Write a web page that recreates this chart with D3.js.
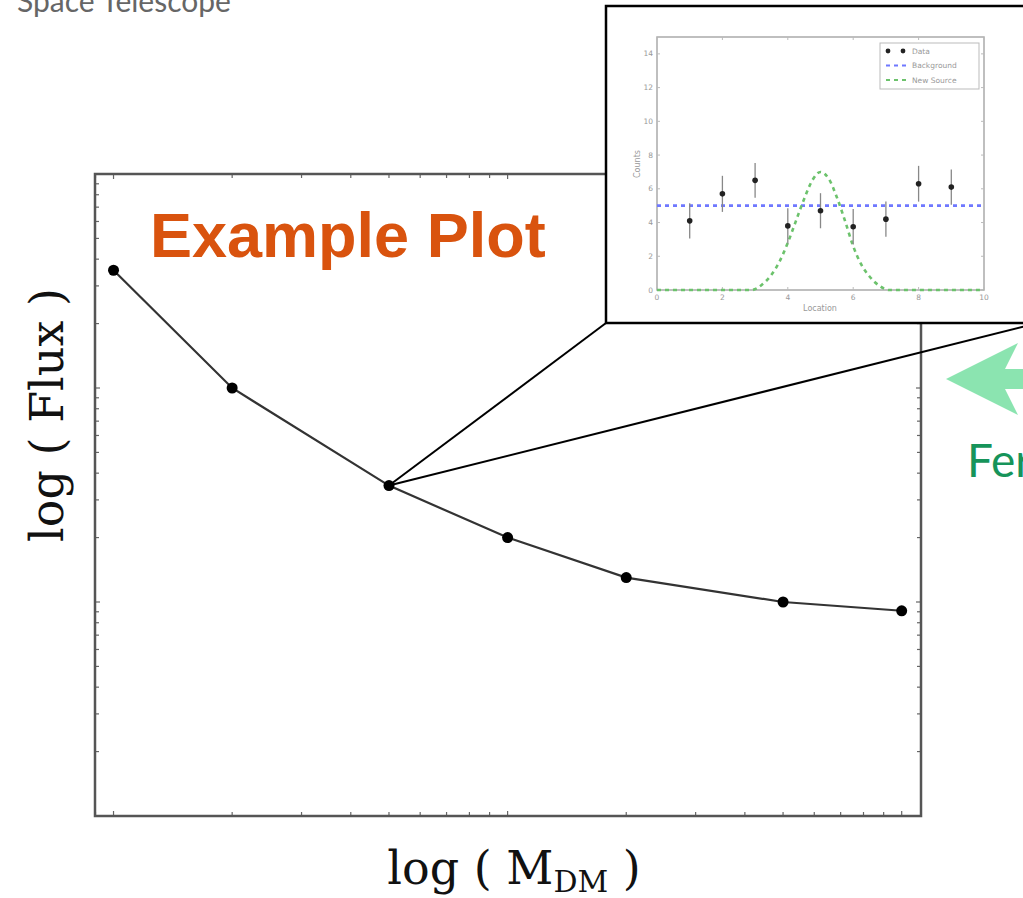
<!DOCTYPE html>
<html>
<head>
<meta charset="utf-8">
<script src="https://cdn.jsdelivr.net/npm/d3@7"></script>
<style>
  html, body { margin: 0; padding: 0; background: #fff; overflow: hidden; }
</style>
</head>
<body>
<div id="chart"></div>
<script>
// main plot data (log-log)
const massDM = [1, 2, 5, 10, 20, 50, 100];
const flux = [355, 100, 35, 20, 13, 10, 9.1];

// inset data
const insetLoc = [1, 2, 3, 4, 5, 6, 7, 8, 9];
const insetCounts = [4.1, 5.7, 6.5, 3.8, 4.7, 3.75, 4.2, 6.3, 6.1];
const insetErr = [1.05, 1.07, 1.03, 1.05, 1.04, 1.05, 1.05, 1.06, 1.05];
const backgroundLevel = [[0, 5], [10, 5]];
const sourceX = [0, 2.9, 3.2, 3.5, 3.75, 4.0, 4.25, 4.5, 4.75, 5.0, 5.25, 5.5, 5.75, 6.0, 6.25, 6.5, 6.8, 7.1, 10];
const sourceY = [0, 0, 0.3, 0.9, 1.7, 2.8, 4.1, 5.4, 6.5, 7.0, 6.6, 5.5, 4.1, 2.6, 1.5, 0.8, 0.25, 0, 0];
const insetXTicks = [0, 2, 4, 6, 8, 10];
const insetYTicks = [0, 2, 4, 6, 8, 10, 12, 14];
const legendLabels = ["Data", "Background", "New Source"];

const width = 1023, height = 898;
const margin = {top: 174, right: 102, bottom: 82, left: 95};

const svg = d3.select("#chart").append("svg")
    .attr("width", width)
    .attr("height", height);

// header text, cut by the top edge
svg.append("text")
    .attr("x", 17).attr("y", 12)
    .attr("font-family", "Lato, 'Open Sans', sans-serif")
    .attr("font-size", 30)
    .attr("fill", "#666")
    .text("Space Telescope");

let x = d3.scaleLog()
    .domain([Math.pow(10, -0.047), Math.pow(10, 2.049)])
    .range([margin.left, width - margin.right]);

let y = d3.scaleLog()
    .domain([1, 1000])
    .range([height - margin.bottom, margin.top]);

const isMajor = v => Math.abs(Math.log10(v) - Math.round(Math.log10(v))) < 1e-6;

// ticks, inward on all four sides
const tickG = svg.append("g").attr("stroke", "#666").attr("stroke-width", 1.2);
x.ticks().forEach(t => {
    let len = isMajor(t) ? 5 : 4;
    tickG.append("line").attr("x1", x(t)).attr("x2", x(t))
        .attr("y1", y.range()[0]).attr("y2", y.range()[0] - len);
    tickG.append("line").attr("x1", x(t)).attr("x2", x(t))
        .attr("y1", y.range()[1]).attr("y2", y.range()[1] + len);
});
y.ticks().forEach(t => {
    let len = isMajor(t) ? 5 : 4;
    tickG.append("line").attr("y1", y(t)).attr("y2", y(t))
        .attr("x1", x.range()[0]).attr("x2", x.range()[0] + len);
    tickG.append("line").attr("y1", y(t)).attr("y2", y(t))
        .attr("x1", x.range()[1]).attr("x2", x.range()[1] - len);
});

svg.append("rect")
    .attr("x", x.range()[0]).attr("y", y.range()[1])
    .attr("width", x.range()[1] - x.range()[0])
    .attr("height", y.range()[0] - y.range()[1])
    .attr("fill", "none")
    .attr("stroke", "#555")
    .attr("stroke-width", 2.5);

const pts = massDM.map((m, i) => [m, flux[i]]);

svg.append("path")
    .datum(pts)
    .attr("fill", "none")
    .attr("stroke", "#333")
    .attr("stroke-width", 2.2)
    .attr("d", d3.line().x(d => x(d[0])).y(d => y(d[1])));

svg.selectAll(".pt")
    .data(pts)
    .join("circle")
    .attr("class", "pt")
    .attr("cx", d => x(d[0]))
    .attr("cy", d => y(d[1]))
    .attr("r", 5.5)
    .attr("fill", "#000");

svg.append("text")
    .attr("x", 150).attr("y", 257)
    .attr("font-family", "'Liberation Sans', Arial, sans-serif")
    .attr("font-weight", "bold")
    .attr("font-size", 63)
    .attr("fill", "#d9530e")
    .text("Example Plot");

// axis labels
svg.append("text")
    .attr("x", (x.range()[0] + x.range()[1]) / 2 + 6)
    .attr("y", 884)
    .attr("text-anchor", "middle")
    .attr("font-family", "'DejaVu Serif', 'Liberation Serif', serif")
    .attr("font-size", 46)
    .attr("fill", "#111")
    .call(t => {
        t.append("tspan").text("log ( M");
        t.append("tspan").attr("font-size", 30).attr("dy", 8).text("DM");
        t.append("tspan").attr("dy", -8).text("  )");
    });

svg.append("text")
    .attr("transform", "translate(63,415) rotate(-90)")
    .attr("text-anchor", "middle")
    .attr("font-family", "'DejaVu Serif', 'Liberation Serif', serif")
    .attr("font-size", 46)
    .attr("fill", "#111")
    .text("log ( Flux )");

// zoom lines from the 3rd point to the inset corners
const zoomPt = [x(massDM[2]), y(flux[2])];
const inset = {x: 606, y: 6, w: 432, h: 317};
svg.append("line")
    .attr("x1", zoomPt[0]).attr("y1", zoomPt[1])
    .attr("x2", inset.x).attr("y2", inset.y + inset.h)
    .attr("stroke", "#000").attr("stroke-width", 2);
svg.append("line")
    .attr("x1", zoomPt[0]).attr("y1", zoomPt[1])
    .attr("x2", inset.x + inset.w).attr("y2", inset.y + inset.h)
    .attr("stroke", "#000").attr("stroke-width", 2);

// inset
const ig = svg.append("g");
ig.append("rect")
    .attr("x", inset.x).attr("y", inset.y)
    .attr("width", inset.w).attr("height", inset.h)
    .attr("fill", "#fff")
    .attr("stroke", "#000")
    .attr("stroke-width", 2.5);

let ix = d3.scaleLinear().domain([0, 10]).range([657, 984]);
let iy = d3.scaleLinear().domain([0, 15]).range([290, 37]);

ig.append("rect")
    .attr("x", 657).attr("y", 37)
    .attr("width", 984 - 657).attr("height", 290 - 37)
    .attr("fill", "none")
    .attr("stroke", "#aaa")
    .attr("stroke-width", 1.5);

const iTicks = ig.append("g").attr("stroke", "#bbb").attr("stroke-width", 1);
insetXTicks.forEach(t => {
    iTicks.append("line").attr("x1", ix(t)).attr("x2", ix(t)).attr("y1", 290).attr("y2", 287);
    iTicks.append("line").attr("x1", ix(t)).attr("x2", ix(t)).attr("y1", 37).attr("y2", 40);
});
insetYTicks.forEach(t => {
    iTicks.append("line").attr("y1", iy(t)).attr("y2", iy(t)).attr("x1", 657).attr("x2", 660);
    iTicks.append("line").attr("y1", iy(t)).attr("y2", iy(t)).attr("x1", 984).attr("x2", 981);
});

ig.selectAll(".ixl")
    .data(insetXTicks)
    .join("text")
    .attr("x", d => ix(d)).attr("y", 300)
    .attr("text-anchor", "middle")
    .attr("font-family", "'DejaVu Sans', sans-serif")
    .attr("font-size", 7.5).attr("fill", "#999")
    .text(d => d);
ig.selectAll(".iyl")
    .data(insetYTicks)
    .join("text")
    .attr("x", 653).attr("y", d => iy(d) + 2.5)
    .attr("text-anchor", "end")
    .attr("font-family", "'DejaVu Sans', sans-serif")
    .attr("font-size", 7.5).attr("fill", "#999")
    .text(d => d);
ig.append("text")
    .attr("x", 820).attr("y", 311)
    .attr("text-anchor", "middle")
    .attr("font-family", "'DejaVu Sans', sans-serif")
    .attr("font-size", 8).attr("fill", "#999")
    .text("Location");
ig.append("text")
    .attr("transform", "translate(640,164) rotate(-90)")
    .attr("text-anchor", "middle")
    .attr("font-family", "'DejaVu Sans', sans-serif")
    .attr("font-size", 8).attr("fill", "#999")
    .text("Counts");

// background and new source lines
ig.append("path")
    .datum(backgroundLevel)
    .attr("fill", "none")
    .attr("stroke", "#6f78ff")
    .attr("stroke-width", 2.6)
    .attr("stroke-dasharray", "4,4")
    .attr("d", d3.line().x(d => ix(d[0])).y(d => iy(d[1])));

ig.append("path")
    .datum(sourceX.map((v, i) => [v, sourceY[i]]))
    .attr("fill", "none")
    .attr("stroke", "#6cc26c")
    .attr("stroke-width", 2.6)
    .attr("stroke-dasharray", "4,4")
    .attr("d", d3.line().curve(d3.curveMonotoneX).x(d => ix(d[0])).y(d => iy(d[1])));

// data with error bars
const iData = insetLoc.map((l, i) => ({l: l, c: insetCounts[i], e: insetErr[i]}));
ig.selectAll(".err")
    .data(iData)
    .join("line")
    .attr("x1", d => ix(d.l)).attr("x2", d => ix(d.l))
    .attr("y1", d => iy(d.c - d.e)).attr("y2", d => iy(d.c + d.e))
    .attr("stroke", "#888").attr("stroke-width", 1.3);
ig.selectAll(".idot")
    .data(iData)
    .join("circle")
    .attr("cx", d => ix(d.l)).attr("cy", d => iy(d.c))
    .attr("r", 2.8).attr("fill", "#222");

// legend
const lg = ig.append("g");
lg.append("rect")
    .attr("x", 880).attr("y", 43).attr("width", 99).attr("height", 46)
    .attr("fill", "#fff").attr("stroke", "#bbb").attr("stroke-width", 1);
legendLabels.forEach((lab, i) => {
    let yy = 51 + i * 14.5;
    if (i === 0) {
        lg.append("circle").attr("cx", 888).attr("cy", yy).attr("r", 2.4).attr("fill", "#222");
        lg.append("circle").attr("cx", 903).attr("cy", yy).attr("r", 2.4).attr("fill", "#222");
    } else {
        lg.append("line").attr("x1", 886).attr("x2", 906).attr("y1", yy).attr("y2", yy)
            .attr("stroke", i === 1 ? "#6f78ff" : "#6cc26c")
            .attr("stroke-width", 2.2).attr("stroke-dasharray", "4,4");
    }
    lg.append("text")
        .attr("x", 912).attr("y", yy + 2.5)
        .attr("font-family", "'DejaVu Sans', sans-serif")
        .attr("font-size", 7.5).attr("fill", "#999")
        .text(lab);
});

// green arrow pointing left + cut text
svg.append("path")
    .attr("d", "M946,379 L1018,343 L1005,369 L1030,369 L1030,389 L1005,389 L1018,415 Z")
    .attr("fill", "#8be4b0");

svg.append("text")
    .attr("x", 967).attr("y", 477)
    .attr("font-family", "Lato, 'Open Sans', sans-serif")
    .attr("font-size", 46)
    .attr("fill", "#16945a")
    .text("Fermi");
</script>
</body>
</html>
